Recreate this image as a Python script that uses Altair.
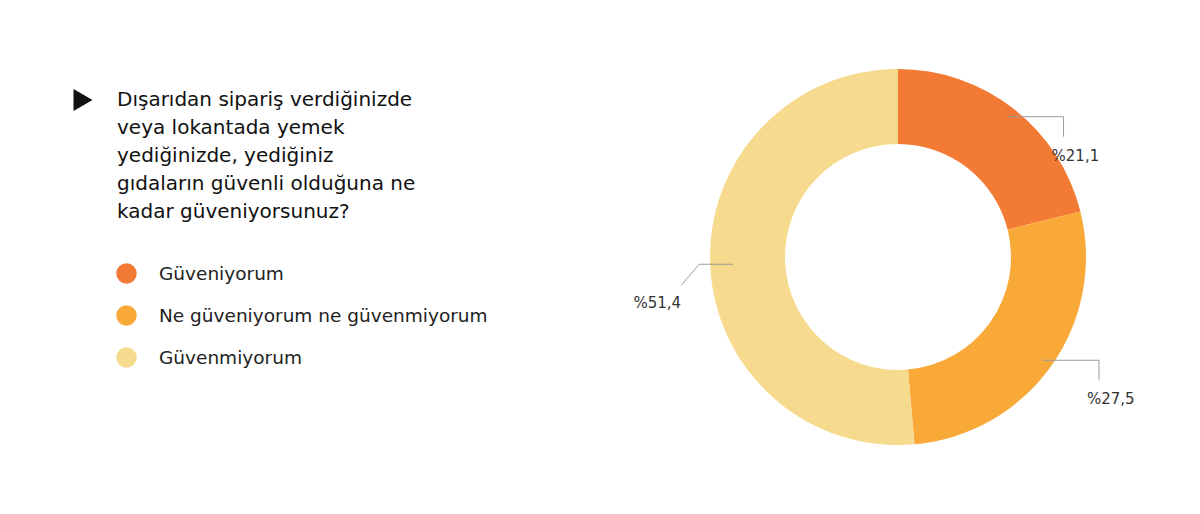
import math
import altair as alt
import pandas as pd

categories = ["Güveniyorum", "Ne güveniyorum ne güvenmiyorum", "Güvenmiyorum"]
values = [21.1, 27.5, 51.4]
colors = ["#F37A35", "#F8A938", "#F6DA8E"]
title_lines = [
    "Dışarıdan sipariş verdiğinizde",
    "veya lokantada yemek",
    "yediğinizde, yediğiniz",
    "gıdaların güvenli olduğuna ne",
    "kadar güveniyorsunuz?",
]

FONT = "DejaVu Sans"

df = pd.DataFrame({"category": categories, "value": values, "order": list(range(len(values)))})
df["label"] = ["%" + f"{v:.1f}".replace(".", ",") for v in values]

# leader lines derived from slice mid-angles (coordinates centred on donut, y up)
total = sum(values)
cum = 0.0
seg_rows, lab_rows = [], []
for cat, v, lab in zip(categories, values, df["label"]):
    mid = (cum + v / 2) / total * 2 * math.pi
    cum += v
    r0 = 178 if math.sin(mid) >= 0 else 165
    sx, sy = r0 * math.sin(mid), r0 * math.cos(mid)
    if sx >= 0:
        ex, ey = sx + 56, sy
        fx, fy = ex, ey - 20
        seg_rows += [dict(x=sx, y=sy, x2=ex, y2=ey), dict(x=ex, y=ey, x2=fx, y2=fy)]
        lab_rows.append(dict(x=ex - 12, y=fy - 19, label=lab, side="right"))
    else:
        ex, ey = sx - 34, sy
        fx, fy = ex - 18, ey - 21
        seg_rows += [dict(x=sx, y=sy, x2=ex, y2=ey), dict(x=ex, y=ey, x2=fx, y2=fy)]
        lab_rows.append(dict(x=fx, y=fy - 18, label=lab, side="left"))
seg_df = pd.DataFrame(seg_rows)
lab_df = pd.DataFrame(lab_rows)

xs = alt.Scale(domain=[-200, 200])
ys = alt.Scale(domain=[-200, 200])

donut = alt.Chart(df).mark_arc(outerRadius=188, innerRadius=113).encode(
    theta=alt.Theta("value:Q", stack=True),
    color=alt.Color(
        "category:N",
        scale=alt.Scale(domain=categories, range=colors),
        legend=alt.Legend(
            orient="none", legendX=-582, legendY=206, title=None,
            symbolType="circle", symbolSize=420, symbolStrokeWidth=0,
            labelFont=FONT, labelFontSize=18.5, labelColor="#222222",
            labelOffset=22, rowPadding=21, padding=0, labelLimit=500,
        ),
    ),
    order=alt.Order("order:Q"),
)

leaders = alt.Chart(seg_df).mark_rule(color="#9a9a9a", strokeWidth=1).encode(
    x=alt.X("x:Q", scale=xs, axis=None),
    y=alt.Y("y:Q", scale=ys, axis=None),
    x2="x2:Q",
    y2="y2:Q",
)

lab_right = alt.Chart(lab_df[lab_df.side == "right"]).mark_text(
    align="left", baseline="middle", font=FONT, fontSize=15, color="#333333"
).encode(x=alt.X("x:Q", scale=xs, axis=None), y=alt.Y("y:Q", scale=ys, axis=None), text="label:N")

lab_left = alt.Chart(lab_df[lab_df.side == "left"]).mark_text(
    align="right", baseline="middle", font=FONT, fontSize=15, color="#333333"
).encode(x=alt.X("x:Q", scale=xs, axis=None), y=alt.Y("y:Q", scale=ys, axis=None), text="label:N")

arrow = alt.Chart(pd.DataFrame({"k": [0]})).mark_point(
    shape="triangle-right", filled=True, color="#111111", size=480, opacity=1
).encode(x=alt.value(-615), y=alt.value(43))

chart = (
    alt.layer(donut, leaders, lab_right, lab_left, arrow)
    .resolve_scale(x="shared", y="shared")
    .properties(
        width=400,
        height=400,
        background="white",
        autosize=alt.AutoSizeParams(type="none"),
        padding={"left": 690, "top": 49, "right": 94, "bottom": 49},
        title=alt.TitleParams(
            text=title_lines, anchor="start", frame="group", orient="top",
            dx=-581, dy=165, offset=0,
            font=FONT, fontSize=20, fontWeight="normal", color="#111111", lineHeight=28,
        ),
    )
    .configure_view(strokeWidth=0, stroke=None)
)

chart.save("out.html", embed_options={"renderer": "svg", "actions": False})
